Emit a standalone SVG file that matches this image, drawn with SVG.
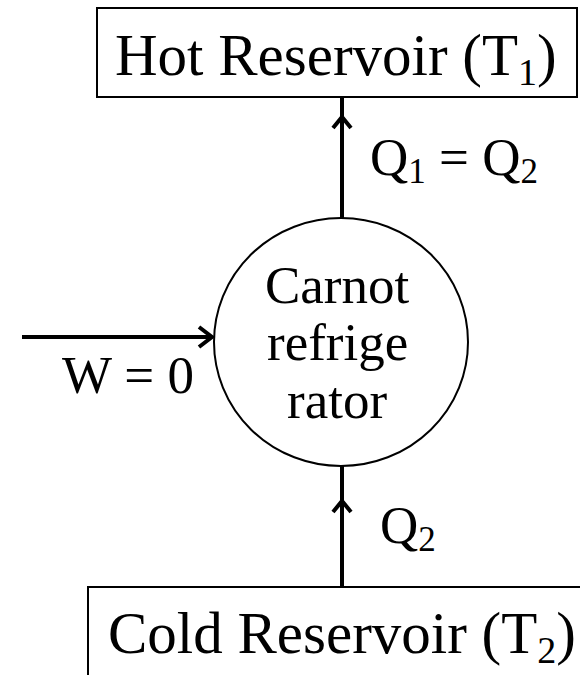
<svg xmlns="http://www.w3.org/2000/svg" width="580" height="675" viewBox="0 0 580 675">
<style>
.box{fill:#fff;stroke:#000;stroke-width:2}
.conn{fill:none;stroke:#000;stroke-width:4}
.head{fill:none;stroke:#000;stroke-width:4;stroke-linecap:butt;stroke-linejoin:miter}
</style>
<rect width="580" height="675" fill="#fff"/>
<g id="hot">
<rect class="box" x="97" y="8" width="480" height="89"/>
<text font-family="Liberation Serif" font-size="59" x="115" y="75">Hot Reservoir (T<tspan font-size="38" dy="10">1</tspan><tspan dy="-10">)</tspan></text>
</g>
<g id="cold">
<path class="box" d="M88,675 V587 H580"/>
<text font-family="Liberation Serif" font-size="59" x="108" y="653">Cold Reservoir (T<tspan font-size="38" dy="10">2</tspan><tspan dy="-10">)</tspan></text>
</g>
<g id="fridge">
<ellipse cx="341" cy="342" rx="127" ry="124" fill="#fff" stroke="#000" stroke-width="2"/>
<text font-family="Liberation Serif" font-size="53" x="265" y="303">Carnot</text>
<text font-family="Liberation Serif" font-size="53" x="267" y="360">refrige</text>
<text font-family="Liberation Serif" font-size="53" x="287" y="418">rator</text>
</g>
<g id="connectors">
<line class="conn" x1="342" y1="218" x2="342" y2="97"/>
<path class="head" d="M333,128 L342,117 L351,128"/>
<line class="conn" x1="342" y1="587" x2="342" y2="466"/>
<path class="head" d="M333,512 L342,501 L351,512"/>
<line class="conn" x1="22" y1="337" x2="212" y2="337"/>
<path class="head" d="M199,327 L212,337 L199,347"/>
</g>
<g id="labels">
<text font-family="Liberation Serif" font-size="53" x="370" y="175">Q<tspan font-size="35" dy="8">1</tspan><tspan dy="-8"> = Q</tspan><tspan font-size="35" dy="8">2</tspan></text>
<text font-family="Liberation Serif" font-size="53" x="380" y="543">Q<tspan font-size="35" dy="8">2</tspan></text>
<text font-family="Liberation Serif" font-size="53" x="62" y="393">W = 0</text>
</g>
</svg>
